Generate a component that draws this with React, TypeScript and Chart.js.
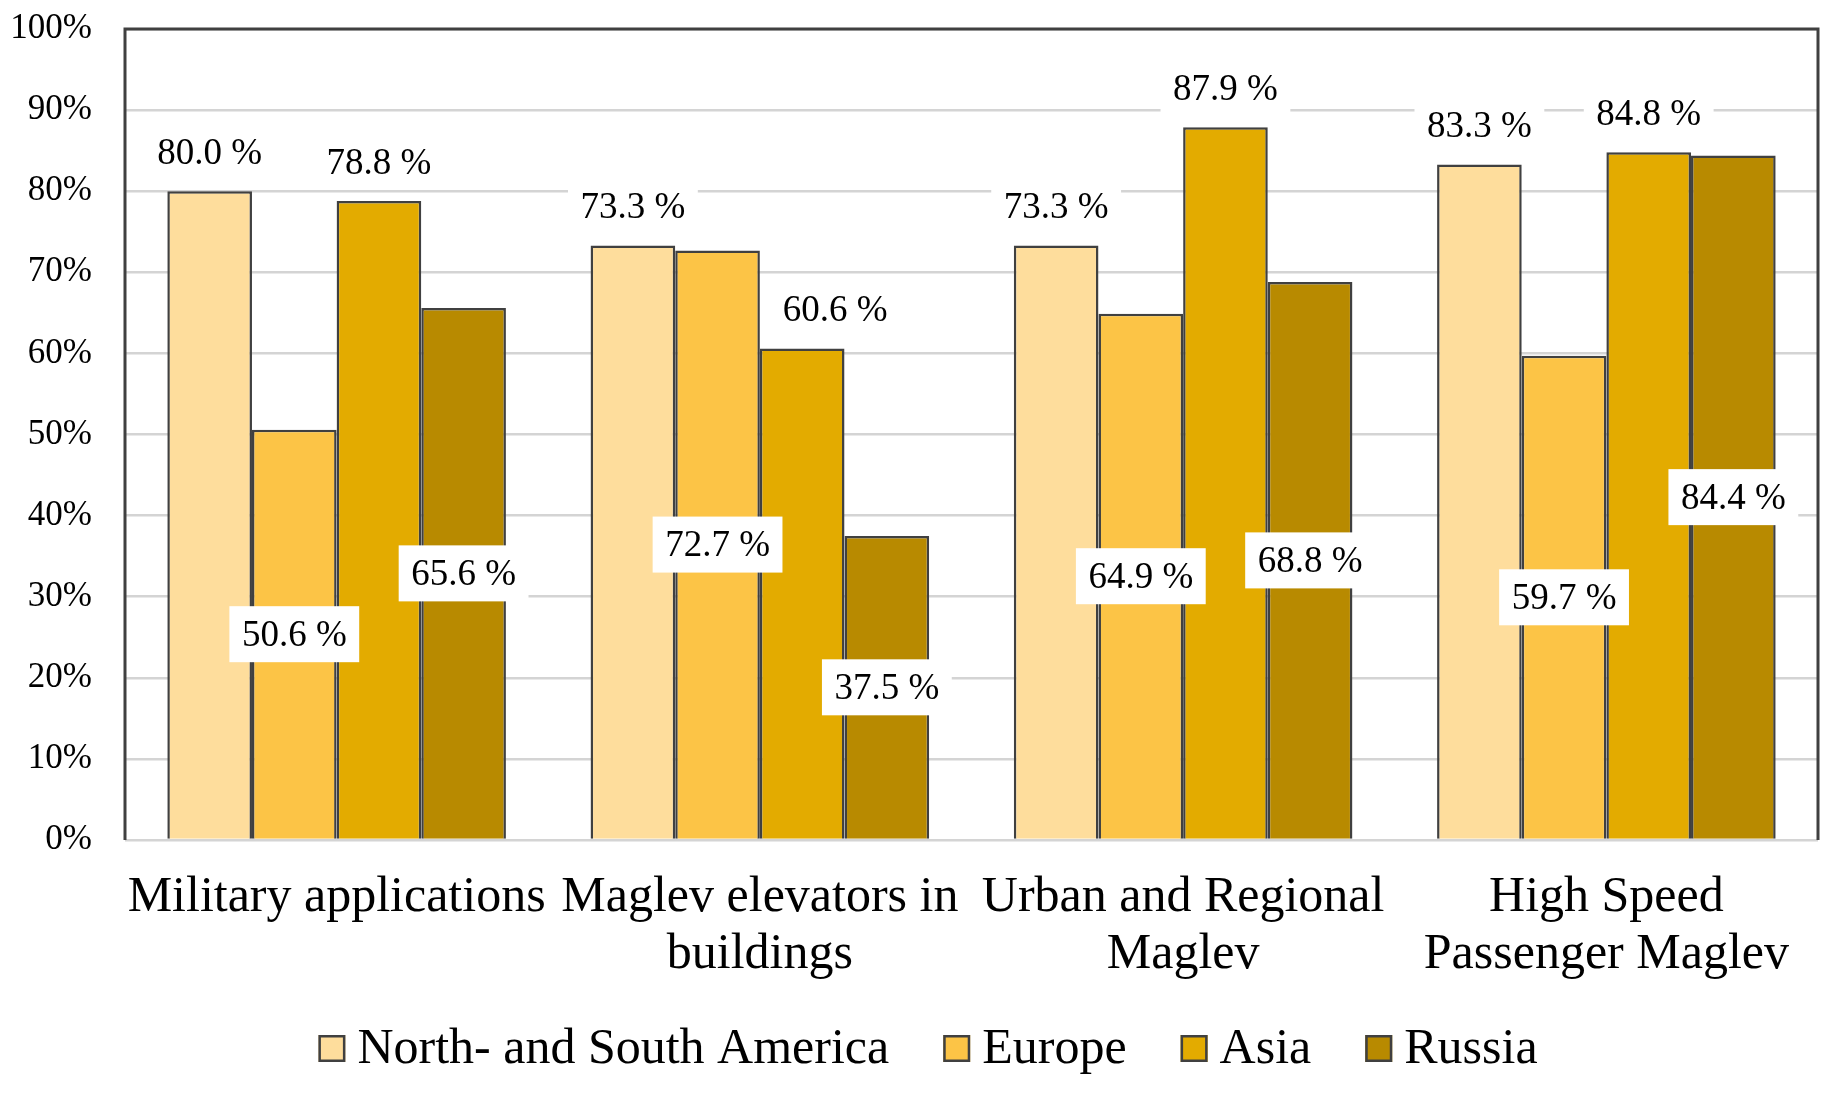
import React, { useEffect, useRef } from "react";
import { Chart, registerables } from "chart.js";

Chart.register(...registerables);

// ---- data ----
const categories: (string | string[])[] = [
  "Military applications",
  ["Maglev elevators in", "buildings"],
  ["Urban and Regional", "Maglev"],
  ["High Speed", "Passenger Maglev"],
];
const seriesNames = ["North- and South America", "Europe", "Asia", "Russia"];
const northSouthAmerica = [80.0, 73.3, 73.3, 83.3];
const europe = [50.6, 72.7, 64.9, 59.7];
const asia = [78.8, 60.6, 87.9, 84.8];
const russia = [65.6, 37.5, 68.8, 84.4];
const yMin = 0;
const yMax = 100;
const yStep = 10;

// ---- styles ----
const FONT = '"Liberation Serif", "Times New Roman", serif';
const colors = ["#FEDD9C", "#FCC446", "#E3AB00", "#B88A00"];
const labelPlacement = ["outside", "center", "outside", "center"];
const BORDER = "#404040";

const labelPlugin = {
  id: "barLabels",
  afterDatasetsDraw(chart: any, _args: any, opts: any) {
    const ctx = chart.ctx;
    ctx.save();
    ctx.font = `37px ${FONT}`;
    ctx.textAlign = "center";
    ctx.textBaseline = "middle";
    chart.data.datasets.forEach((ds: any, di: number) => {
      const meta = chart.getDatasetMeta(di);
      meta.data.forEach((bar: any, i: number) => {
        const v = ds.data[i] as number;
        const text = v.toFixed(1) + " %";
        const w = ctx.measureText(text).width + 25;
        const h = 56;
        let x = bar.x;
        const y = labelPlacement[di] === "outside" ? bar.y - 39 : (bar.y + bar.base) / 2;
        (opts.nudges || []).forEach((n: any) => {
          if (n.dataset === di && n.index === i) x += n.dx;
        });
        ctx.fillStyle = "#ffffff";
        ctx.fillRect(x - w / 2, y - h / 2, w, h);
        ctx.fillStyle = "#000000";
        ctx.fillText(text, x, y + 2);
      });
    });
    ctx.restore();
  },
};

const framePlugin = {
  id: "frame",
  beforeDatasetsDraw(chart: any) {
    const { ctx, chartArea } = chart;
    ctx.save();
    ctx.strokeStyle = BORDER;
    ctx.lineWidth = 3;
    ctx.beginPath();
    ctx.moveTo(chartArea.left, chartArea.bottom);
    ctx.lineTo(chartArea.left, chartArea.top);
    ctx.lineTo(chartArea.right, chartArea.top);
    ctx.lineTo(chartArea.right, chartArea.bottom);
    ctx.stroke();
    ctx.restore();
  },
};

const legendPlugin = {
  id: "customLegend",
  afterDraw(chart: any) {
    const ctx = chart.ctx;
    ctx.save();
    ctx.font = `50px ${FONT}`;
    const box = 27;
    const gap = 12;
    const spacing = 54;
    const items = chart.data.datasets.map((ds: any) => ({
      text: ds.label,
      color: ds.backgroundColor,
      w: ctx.measureText(ds.label).width,
    }));
    const total =
      items.reduce((s: number, it: any) => s + box + gap + it.w, 0) + spacing * (items.length - 1);
    let x = chart.width / 2 + 9 - total / 2;
    const baseline = chart.chartArea.bottom + 223;
    ctx.textBaseline = "alphabetic";
    ctx.textAlign = "left";
    items.forEach((it: any) => {
      ctx.fillStyle = it.color;
      ctx.fillRect(x, baseline - box - 1, box, box);
      ctx.strokeStyle = BORDER;
      ctx.lineWidth = 2.5;
      ctx.strokeRect(x + 1.25, baseline - box - 1 + 1.25, box - 2.5, box - 2.5);
      ctx.fillStyle = "#000";
      ctx.fillText(it.text, x + box + gap, baseline);
      x += box + gap + it.w + spacing;
    });
    ctx.restore();
  },
};

export default function App() {
  const ref = useRef<HTMLCanvasElement | null>(null);

  useEffect(() => {
    document.body.style.margin = "0";
    document.body.style.overflow = "hidden";
    const series = [northSouthAmerica, europe, asia, russia];
    const chart = new Chart(ref.current as HTMLCanvasElement, {
      type: "bar",
      data: {
        labels: categories,
        datasets: series.map((d, i) => ({
          label: seriesNames[i],
          data: d,
          backgroundColor: colors[i],
          borderColor: BORDER,
          borderWidth: 2.5,
          categoryPercentage: 0.8,
          barPercentage: 1.0,
        })),
      },
      options: {
        responsive: false,
        animation: false,
        devicePixelRatio: 1,
        layout: { autoPadding: false, padding: { left: 0, right: 20, top: 29, bottom: 0 } },
        plugins: {
          legend: { display: false },
          tooltip: { enabled: false },
          barLabels: { nudges: [{ dataset: 2, index: 1, dx: 33 }] },
        } as any,
        scales: {
          x: {
            grid: { display: false, drawTicks: false },
            border: { display: false },
            ticks: {
              color: "#000",
              font: { family: FONT, size: 50, lineHeight: 1.14 },
              padding: 29,
              maxRotation: 0,
              minRotation: 0,
              autoSkip: false,
            },
            afterFit(scale: any) {
              scale.height = 255;
              scale.paddingLeft = 0;
              scale.paddingRight = 0;
            },
          },
          y: {
            min: yMin,
            max: yMax,
            grid: { color: "#D4D4D4", lineWidth: 2.5, drawTicks: false },
            border: { display: false },
            ticks: {
              stepSize: yStep,
              color: "#000",
              font: { family: FONT, size: 35 },
              padding: 33,
              callback: (v: any) => v + "%",
            },
            afterFit(scale: any) {
              scale.width = 125;
              scale.paddingTop = 0;
              scale.paddingBottom = 0;
            },
          },
        },
      },
      plugins: [framePlugin, labelPlugin, legendPlugin],
    });
    return () => chart.destroy();
  }, []);

  return (
    <div style={{ width: 1838, height: 1095, background: "#fff" }}>
      <canvas ref={ref} width={1838} height={1095} style={{ display: "block" }} />
    </div>
  );
}
